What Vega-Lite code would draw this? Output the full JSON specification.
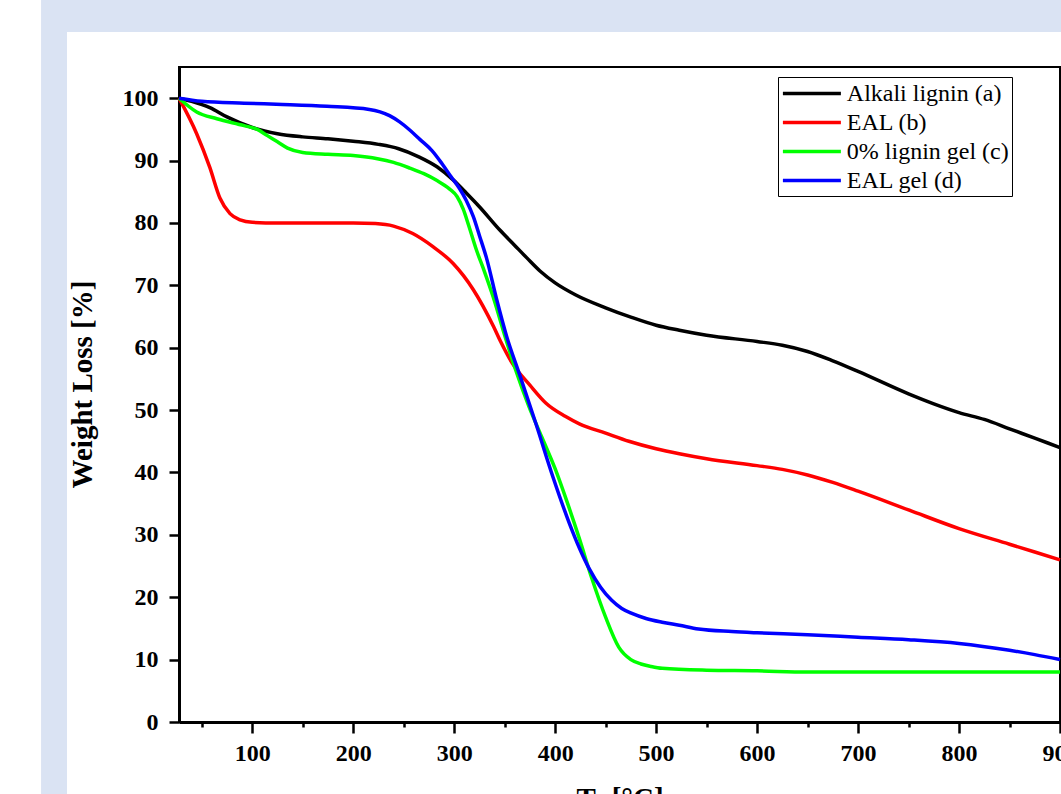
{
  "$schema": "https://vega.github.io/schema/vega-lite/v6.json",
  "width": 881,
  "height": 655,
  "autosize": {"type": "none"},
  "padding": {"left": 179, "top": 67, "right": 1, "bottom": 72},
  "background": "white",
  "config": {
    "view": {"stroke": "black", "strokeWidth": 2},
    "font": "Liberation Serif"
  },
  "datasets": {
    "tga": [
      {"T": 27.5, "W": 100, "series": "Alkali lignin (a)"},
      {"T": 40, "W": 99.5, "series": "Alkali lignin (a)"},
      {"T": 58, "W": 98.5, "series": "Alkali lignin (a)"},
      {"T": 75, "W": 97, "series": "Alkali lignin (a)"},
      {"T": 100, "W": 95.3, "series": "Alkali lignin (a)"},
      {"T": 125, "W": 94.3, "series": "Alkali lignin (a)"},
      {"T": 150, "W": 93.8, "series": "Alkali lignin (a)"},
      {"T": 175, "W": 93.5, "series": "Alkali lignin (a)"},
      {"T": 200, "W": 93.1, "series": "Alkali lignin (a)"},
      {"T": 225, "W": 92.6, "series": "Alkali lignin (a)"},
      {"T": 245, "W": 91.9, "series": "Alkali lignin (a)"},
      {"T": 265, "W": 90.6, "series": "Alkali lignin (a)"},
      {"T": 283, "W": 89, "series": "Alkali lignin (a)"},
      {"T": 299, "W": 86.9, "series": "Alkali lignin (a)"},
      {"T": 312, "W": 84.8, "series": "Alkali lignin (a)"},
      {"T": 325, "W": 82.6, "series": "Alkali lignin (a)"},
      {"T": 345, "W": 78.9, "series": "Alkali lignin (a)"},
      {"T": 360, "W": 76.4, "series": "Alkali lignin (a)"},
      {"T": 372, "W": 74.4, "series": "Alkali lignin (a)"},
      {"T": 385, "W": 72.3, "series": "Alkali lignin (a)"},
      {"T": 400, "W": 70.4, "series": "Alkali lignin (a)"},
      {"T": 420, "W": 68.5, "series": "Alkali lignin (a)"},
      {"T": 450, "W": 66.4, "series": "Alkali lignin (a)"},
      {"T": 475, "W": 64.9, "series": "Alkali lignin (a)"},
      {"T": 500, "W": 63.6, "series": "Alkali lignin (a)"},
      {"T": 523, "W": 62.8, "series": "Alkali lignin (a)"},
      {"T": 550, "W": 62, "series": "Alkali lignin (a)"},
      {"T": 600, "W": 61, "series": "Alkali lignin (a)"},
      {"T": 625, "W": 60.4, "series": "Alkali lignin (a)"},
      {"T": 650, "W": 59.4, "series": "Alkali lignin (a)"},
      {"T": 675, "W": 57.9, "series": "Alkali lignin (a)"},
      {"T": 700, "W": 56.2, "series": "Alkali lignin (a)"},
      {"T": 750, "W": 52.6, "series": "Alkali lignin (a)"},
      {"T": 775, "W": 51, "series": "Alkali lignin (a)"},
      {"T": 800, "W": 49.6, "series": "Alkali lignin (a)"},
      {"T": 825, "W": 48.5, "series": "Alkali lignin (a)"},
      {"T": 850, "W": 47, "series": "Alkali lignin (a)"},
      {"T": 875, "W": 45.5, "series": "Alkali lignin (a)"},
      {"T": 900, "W": 44, "series": "Alkali lignin (a)"},

      {"T": 27.5, "W": 100, "series": "EAL (b)"},
      {"T": 45, "W": 94.3, "series": "EAL (b)"},
      {"T": 58, "W": 88.9, "series": "EAL (b)"},
      {"T": 68, "W": 84, "series": "EAL (b)"},
      {"T": 78, "W": 81.5, "series": "EAL (b)"},
      {"T": 88, "W": 80.5, "series": "EAL (b)"},
      {"T": 100, "W": 80.1, "series": "EAL (b)"},
      {"T": 125, "W": 80, "series": "EAL (b)"},
      {"T": 150, "W": 80, "series": "EAL (b)"},
      {"T": 200, "W": 80, "series": "EAL (b)"},
      {"T": 222, "W": 79.9, "series": "EAL (b)"},
      {"T": 240, "W": 79.5, "series": "EAL (b)"},
      {"T": 259, "W": 78.3, "series": "EAL (b)"},
      {"T": 279, "W": 76.2, "series": "EAL (b)"},
      {"T": 299, "W": 73.5, "series": "EAL (b)"},
      {"T": 319, "W": 69.3, "series": "EAL (b)"},
      {"T": 339, "W": 63.4, "series": "EAL (b)"},
      {"T": 346, "W": 61, "series": "EAL (b)"},
      {"T": 358, "W": 57.4, "series": "EAL (b)"},
      {"T": 375, "W": 54, "series": "EAL (b)"},
      {"T": 391, "W": 51.1, "series": "EAL (b)"},
      {"T": 410, "W": 49, "series": "EAL (b)"},
      {"T": 424, "W": 47.8, "series": "EAL (b)"},
      {"T": 450, "W": 46.3, "series": "EAL (b)"},
      {"T": 473, "W": 45, "series": "EAL (b)"},
      {"T": 500, "W": 43.8, "series": "EAL (b)"},
      {"T": 523, "W": 43, "series": "EAL (b)"},
      {"T": 550, "W": 42.2, "series": "EAL (b)"},
      {"T": 600, "W": 41.1, "series": "EAL (b)"},
      {"T": 625, "W": 40.5, "series": "EAL (b)"},
      {"T": 650, "W": 39.6, "series": "EAL (b)"},
      {"T": 675, "W": 38.4, "series": "EAL (b)"},
      {"T": 700, "W": 37, "series": "EAL (b)"},
      {"T": 750, "W": 34, "series": "EAL (b)"},
      {"T": 800, "W": 31, "series": "EAL (b)"},
      {"T": 850, "W": 28.5, "series": "EAL (b)"},
      {"T": 900, "W": 26, "series": "EAL (b)"},

      {"T": 27.5, "W": 100, "series": "0% lignin gel (c)"},
      {"T": 45, "W": 97.8, "series": "0% lignin gel (c)"},
      {"T": 65, "W": 96.7, "series": "0% lignin gel (c)"},
      {"T": 92, "W": 95.6, "series": "0% lignin gel (c)"},
      {"T": 105, "W": 95, "series": "0% lignin gel (c)"},
      {"T": 115, "W": 94, "series": "0% lignin gel (c)"},
      {"T": 125, "W": 93, "series": "0% lignin gel (c)"},
      {"T": 135, "W": 92, "series": "0% lignin gel (c)"},
      {"T": 150, "W": 91.3, "series": "0% lignin gel (c)"},
      {"T": 175, "W": 91, "series": "0% lignin gel (c)"},
      {"T": 200, "W": 90.8, "series": "0% lignin gel (c)"},
      {"T": 224, "W": 90.3, "series": "0% lignin gel (c)"},
      {"T": 240, "W": 89.7, "series": "0% lignin gel (c)"},
      {"T": 256, "W": 88.8, "series": "0% lignin gel (c)"},
      {"T": 270, "W": 87.9, "series": "0% lignin gel (c)"},
      {"T": 283, "W": 86.8, "series": "0% lignin gel (c)"},
      {"T": 295, "W": 85.5, "series": "0% lignin gel (c)"},
      {"T": 303, "W": 84.2, "series": "0% lignin gel (c)"},
      {"T": 309, "W": 82.2, "series": "0% lignin gel (c)"},
      {"T": 314, "W": 79.8, "series": "0% lignin gel (c)"},
      {"T": 322, "W": 75.7, "series": "0% lignin gel (c)"},
      {"T": 330, "W": 72.2, "series": "0% lignin gel (c)"},
      {"T": 338.5, "W": 68.2, "series": "0% lignin gel (c)"},
      {"T": 350, "W": 62, "series": "0% lignin gel (c)"},
      {"T": 361, "W": 56.4, "series": "0% lignin gel (c)"},
      {"T": 374, "W": 50.6, "series": "0% lignin gel (c)"},
      {"T": 387, "W": 45.6, "series": "0% lignin gel (c)"},
      {"T": 400, "W": 40.6, "series": "0% lignin gel (c)"},
      {"T": 412, "W": 35.2, "series": "0% lignin gel (c)"},
      {"T": 424, "W": 29.4, "series": "0% lignin gel (c)"},
      {"T": 436, "W": 23.2, "series": "0% lignin gel (c)"},
      {"T": 450, "W": 16.8, "series": "0% lignin gel (c)"},
      {"T": 463, "W": 12, "series": "0% lignin gel (c)"},
      {"T": 475, "W": 10, "series": "0% lignin gel (c)"},
      {"T": 485, "W": 9.3, "series": "0% lignin gel (c)"},
      {"T": 495, "W": 8.9, "series": "0% lignin gel (c)"},
      {"T": 506, "W": 8.6, "series": "0% lignin gel (c)"},
      {"T": 550, "W": 8.3, "series": "0% lignin gel (c)"},
      {"T": 600, "W": 8.2, "series": "0% lignin gel (c)"},
      {"T": 650, "W": 8, "series": "0% lignin gel (c)"},
      {"T": 700, "W": 8, "series": "0% lignin gel (c)"},
      {"T": 800, "W": 8, "series": "0% lignin gel (c)"},
      {"T": 900, "W": 8, "series": "0% lignin gel (c)"},

      {"T": 27.5, "W": 100, "series": "EAL gel (d)"},
      {"T": 50, "W": 99.5, "series": "EAL gel (d)"},
      {"T": 92, "W": 99.2, "series": "EAL gel (d)"},
      {"T": 130, "W": 99, "series": "EAL gel (d)"},
      {"T": 174, "W": 98.7, "series": "EAL gel (d)"},
      {"T": 216, "W": 98.2, "series": "EAL gel (d)"},
      {"T": 236, "W": 97.2, "series": "EAL gel (d)"},
      {"T": 246, "W": 96.2, "series": "EAL gel (d)"},
      {"T": 256, "W": 94.9, "series": "EAL gel (d)"},
      {"T": 266, "W": 93.4, "series": "EAL gel (d)"},
      {"T": 278, "W": 91.6, "series": "EAL gel (d)"},
      {"T": 288, "W": 89.5, "series": "EAL gel (d)"},
      {"T": 297, "W": 87.4, "series": "EAL gel (d)"},
      {"T": 305, "W": 85.6, "series": "EAL gel (d)"},
      {"T": 312, "W": 83.6, "series": "EAL gel (d)"},
      {"T": 319, "W": 81, "series": "EAL gel (d)"},
      {"T": 325, "W": 78, "series": "EAL gel (d)"},
      {"T": 332, "W": 74.4, "series": "EAL gel (d)"},
      {"T": 342, "W": 67.8, "series": "EAL gel (d)"},
      {"T": 352, "W": 61.8, "series": "EAL gel (d)"},
      {"T": 365, "W": 55.6, "series": "EAL gel (d)"},
      {"T": 381, "W": 47.8, "series": "EAL gel (d)"},
      {"T": 398, "W": 39.2, "series": "EAL gel (d)"},
      {"T": 414, "W": 31.9, "series": "EAL gel (d)"},
      {"T": 424, "W": 27.9, "series": "EAL gel (d)"},
      {"T": 434, "W": 24.5, "series": "EAL gel (d)"},
      {"T": 445, "W": 21.6, "series": "EAL gel (d)"},
      {"T": 456, "W": 19.5, "series": "EAL gel (d)"},
      {"T": 466, "W": 18.2, "series": "EAL gel (d)"},
      {"T": 476, "W": 17.4, "series": "EAL gel (d)"},
      {"T": 490, "W": 16.6, "series": "EAL gel (d)"},
      {"T": 506, "W": 16, "series": "EAL gel (d)"},
      {"T": 523, "W": 15.5, "series": "EAL gel (d)"},
      {"T": 542, "W": 14.9, "series": "EAL gel (d)"},
      {"T": 575, "W": 14.5, "series": "EAL gel (d)"},
      {"T": 600, "W": 14.3, "series": "EAL gel (d)"},
      {"T": 650, "W": 14, "series": "EAL gel (d)"},
      {"T": 700, "W": 13.6, "series": "EAL gel (d)"},
      {"T": 750, "W": 13.2, "series": "EAL gel (d)"},
      {"T": 800, "W": 12.6, "series": "EAL gel (d)"},
      {"T": 850, "W": 11.5, "series": "EAL gel (d)"},
      {"T": 875, "W": 10.8, "series": "EAL gel (d)"},
      {"T": 900, "W": 10, "series": "EAL gel (d)"}
    ]
  },
  "resolve": {"axis": {"x": "independent"}},
  "layer": [
    {
      "data": {"values": [{}]},
      "mark": {"type": "rect", "color": "#dae3f3"},
      "encoding": {
        "x": {"datum": -109.1, "type": "quantitative", "scale": {"domain": [27.5, 900], "nice": false, "zero": false}, "axis": null},
        "x2": {"datum": 1100},
        "y": {"datum": 110.6, "type": "quantitative", "scale": {"domain": [0, 105], "nice": false, "zero": false}},
        "y2": {"datum": 130}
      }
    },
    {
      "data": {"values": [{}]},
      "mark": {"type": "rect", "color": "#dae3f3"},
      "encoding": {
        "x": {"datum": -109.1, "type": "quantitative", "scale": {"domain": [27.5, 900], "nice": false, "zero": false},
          "axis": {"orient": "bottom", "values": [50, 150, 250, 350, 450, 550, 650, 750, 850], "labels": false, "domain": false, "grid": false, "title": null, "tickSize": 5, "tickWidth": 2.5, "tickColor": "black"}},
        "x2": {"datum": -83.4},
        "y": {"datum": 110.6, "type": "quantitative", "scale": {"domain": [0, 105], "nice": false, "zero": false}},
        "y2": {"datum": -20}
      }
    },
    {
      "data": {"name": "tga"},
      "mark": {"type": "line", "strokeWidth": 3.5, "interpolate": "monotone"},
      "encoding": {
        "x": {"field": "T", "type": "quantitative", "scale": {"domain": [27.5, 900], "nice": false, "zero": false},
          "axis": {"orient": "bottom", "title": "Ts [°C]", "values": [100, 200, 300, 400, 500, 600, 700, 800, 900], "grid": false,
            "domainColor": "black", "domainWidth": 3, "tickColor": "black", "tickWidth": 2.5, "tickSize": 11,
            "labelFont": "Liberation Serif", "labelFontWeight": "bold", "labelFontSize": 24, "labelColor": "black", "labelPadding": 8,
            "labelFlush": false, "labelOverlap": false,
            "titleFont": "Liberation Serif", "titleFontWeight": "bold", "titleFontSize": 29, "titleColor": "black", "titlePadding": 19}},
        "y": {"field": "W", "type": "quantitative", "scale": {"domain": [0, 105], "nice": false, "zero": false},
          "axis": {"title": "Weight Loss [%]", "values": [0, 10, 20, 30, 40, 50, 60, 70, 80, 90, 100], "grid": false,
            "domainColor": "black", "domainWidth": 3, "tickColor": "black", "tickWidth": 2.5, "tickSize": 10,
            "labelFont": "Liberation Serif", "labelFontWeight": "bold", "labelFontSize": 24, "labelColor": "black", "labelPadding": 11,
            "labelFlush": false, "labelOverlap": false,
            "titleFont": "Liberation Serif", "titleFontWeight": "bold", "titleFontSize": 29, "titleColor": "black", "titlePadding": 25, "titleY": 317}},
        "color": {"field": "series", "type": "nominal",
          "scale": {"domain": ["Alkali lignin (a)", "EAL (b)", "0% lignin gel (c)", "EAL gel (d)"], "range": ["#000000", "#ff0000", "#00ff00", "#0000ff"]},
          "legend": {"title": null, "orient": "none", "legendX": 599, "legendY": 10, "strokeColor": "black", "fillColor": "white", "padding": 3,
            "symbolType": "M-1,0L4,0", "symbolSize": 538, "symbolStrokeWidth": 3.5, "labelFont": "Liberation Serif", "labelFontSize": 24, "labelColor": "black",
            "labelOffset": 38.8, "rowPadding": 3, "labelLimit": 400}},
        "order": {"field": "T", "type": "quantitative"}
      }
    }
  ]
}
